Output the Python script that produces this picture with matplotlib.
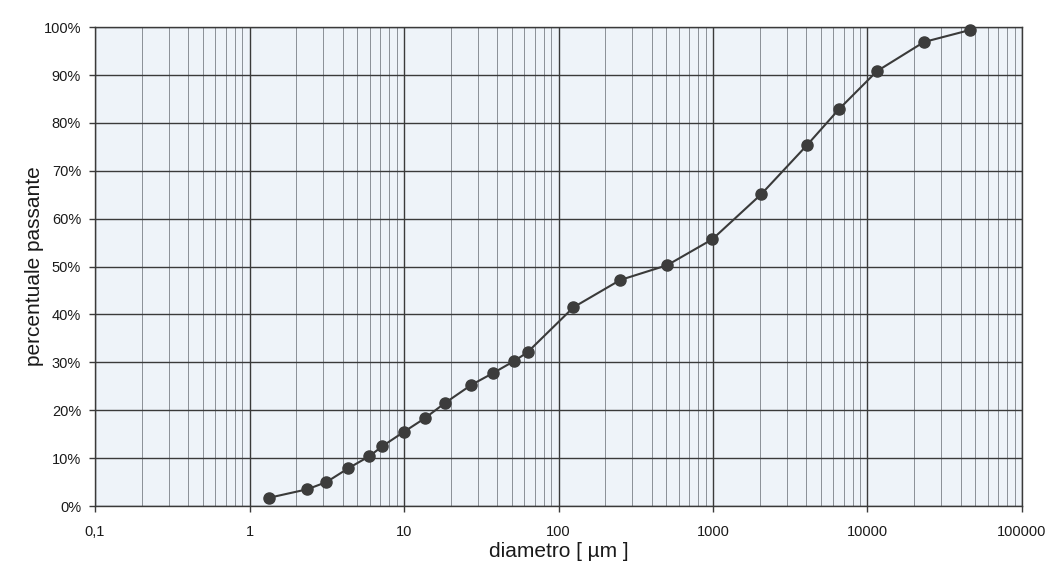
import numpy as np
import matplotlib.pyplot as plt
from matplotlib.ticker import FixedLocator, LogLocator, NullFormatter

plt.rcParams['font.family'] = ['Liberation Sans', 'DejaVu Sans']

# grain size distribution (diameter in micrometres, cumulative % passing)
diametro = [1.33, 2.37, 3.15, 4.37, 5.97, 7.25, 10.0, 13.6, 18.4, 27.3, 37.9,
            51.8, 63.0, 125, 251, 506, 990, 2050, 4070, 6550, 11500, 23200, 46000]
passante = [1.7, 3.5, 5.0, 7.9, 10.4, 12.5, 15.5, 18.3, 21.5, 25.3, 27.8,
            30.3, 32.1, 41.5, 47.2, 50.3, 55.7, 65.1, 75.4, 82.9, 90.8, 96.9, 99.4]

x_ticks = [0.1, 1, 10, 100, 1000, 10000, 100000]
x_labels = ['0,1', '1', '10', '100', '1000', '10000', '100000']
y_ticks = list(range(0, 101, 10))
y_labels = [f'{v}%' for v in y_ticks]

fig = plt.figure(figsize=(10.51, 5.66), dpi=100)
ax = fig.add_axes([0.0904, 0.106, 0.882, 0.846])
ax.set_facecolor('#eef3f9')

ax.set_xscale('log')
ax.set_xlim(0.1, 100000)
ax.set_ylim(0, 100)

ax.xaxis.set_major_locator(FixedLocator(x_ticks))
ax.xaxis.set_minor_locator(LogLocator(base=10, subs=np.arange(2, 10)))
ax.xaxis.set_minor_formatter(NullFormatter())
ax.set_xticks(x_ticks)
ax.set_xticklabels(x_labels)
ax.set_yticks(y_ticks)
ax.set_yticklabels(y_labels)

ax.grid(which='minor', axis='x', color='#8a8f96', linewidth=0.7)
ax.grid(which='major', axis='both', color='#3a3a3a', linewidth=1.0)
ax.set_axisbelow(True)

ax.tick_params(axis='both', which='major', length=4, width=1, color='#3a3a3a',
               labelsize=10.5, labelcolor='#1a1a1a')
ax.tick_params(axis='x', which='major', pad=10)
ax.tick_params(axis='y', which='major', pad=6)
ax.tick_params(axis='x', which='minor', length=0)
for s in ax.spines.values():
    s.set_color('#3a3a3a')
    s.set_linewidth(1.0)

ax.plot(diametro, passante, color='#3a3a3a', linewidth=1.5, marker='o',
        markersize=8, markerfacecolor='#3c3c3c', markeredgecolor='#3c3c3c',
        clip_on=False, zorder=3)

ax.set_xlabel('diametro [ \u00b5m ]', fontsize=15, color='#1a1a1a', va='center')
ax.xaxis.set_label_coords(0.5, -0.096)
ax.set_ylabel('percentuale passante', fontsize=15, color='#1a1a1a', va='center')
ax.yaxis.set_label_coords(-0.065, 0.5)

fig.savefig('out.png', dpi=100, facecolor='white')
